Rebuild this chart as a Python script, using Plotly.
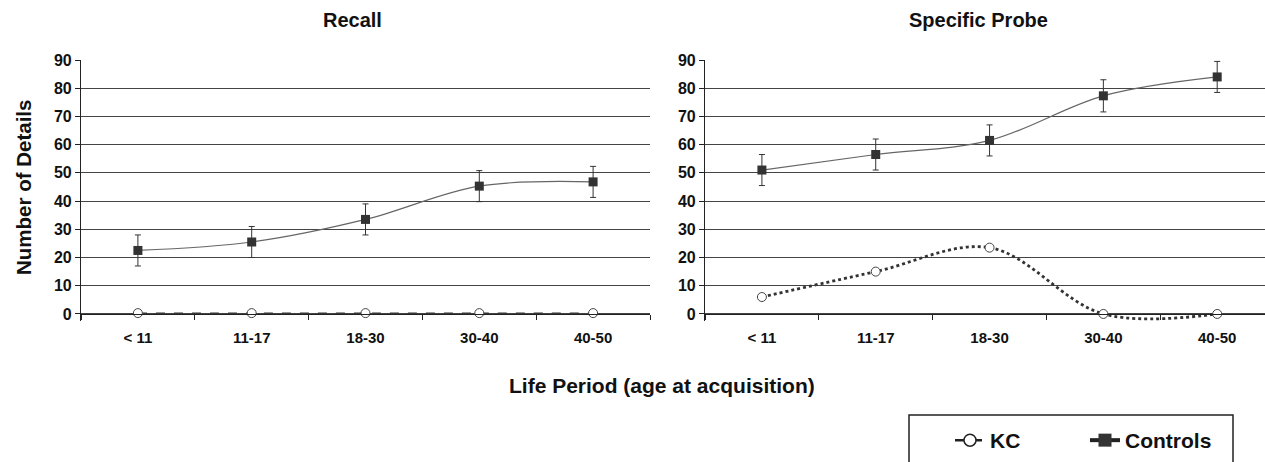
import plotly.graph_objects as go

categories = ["< 11", "11-17", "18-30", "30-40", "40-50"]
recall_controls = [22.5, 25.5, 33.5, 45.3, 46.8]
recall_controls_err = [5.5, 5.5, 5.5, 5.5, 5.5]
recall_kc = [0.3, 0.3, 0.3, 0.3, 0.3]
probe_controls = [51.0, 56.5, 61.5, 77.3, 84.0]
probe_controls_err = [5.5, 5.5, 5.5, 5.7, 5.5]
probe_kc = [6.0, 15.0, 23.5, 0.0, 0.0]
y_ticks = [0, 10, 20, 30, 40, 50, 60, 70, 80, 90]

FONT = "Liberation Sans, Arial, sans-serif"
W, H = 1265, 462
YMIN, YMAX = -2.5, 90
MT, MB = 60, 141

fig = go.Figure()

def add_panel(xa, ya, controls, err, kc, kc_width, kc_dash):
    fig.add_trace(go.Scatter(
        x=categories, y=controls, xaxis=xa, yaxis=ya, mode="lines+markers",
        line=dict(color="#666666", width=1.2, shape="spline", smoothing=1),
        marker=dict(symbol="square", size=9, color="#333333"),
        error_y=dict(type="data", array=err, color="#333333", thickness=1, width=3),
        showlegend=False))
    fig.add_trace(go.Scatter(
        x=categories, y=kc, xaxis=xa, yaxis=ya, mode="lines+markers",
        line=dict(color="#333333", width=kc_width, dash=kc_dash, shape="spline", smoothing=1),
        marker=dict(symbol="circle", size=9, color="white", line=dict(color="#444444", width=1)),
        showlegend=False))

add_panel("x", "y", recall_controls, recall_controls_err, recall_kc, 1.2, "dash")
add_panel("x2", "y2", probe_controls, probe_controls_err, probe_kc, 2.8, "dot")

# legend-only traces
fig.add_trace(go.Scatter(x=[None], y=[None], mode="lines+markers", name="<b>KC</b>",
                         line=dict(color="#222222", width=2.5, dash="dash"),
                         marker=dict(symbol="circle", size=12, color="white", line=dict(color="#222222", width=1.5))))
fig.add_trace(go.Scatter(x=[None], y=[None], mode="lines+markers", name="<b>Controls</b>",
                         line=dict(color="#222222", width=4),
                         marker=dict(symbol="square", size=13, color="#333333")))

bold_cats = ["<b>%s</b>" % c for c in categories]
bold_y = ["<b>%d</b>" % v for v in y_ticks]

xcommon = dict(type="category", categoryorder="array", categoryarray=categories,
               tickvals=categories, ticktext=bold_cats,
               showline=True, linecolor="#222222", linewidth=1.2,
               ticks="outside", tickson="boundaries", ticklen=5, tickcolor="#222222",
               ticklabelstandoff=10,
               showgrid=False, zeroline=False,
               tickfont=dict(family=FONT, size=15, color="#111111"))
ycommon = dict(range=[YMIN, YMAX], tickvals=y_ticks, ticktext=bold_y,
               showline=True, linecolor="#222222", linewidth=1.2,
               ticks="outside", ticklen=5, tickcolor="#222222",
               showgrid=True, gridcolor="#444444", gridwidth=1.2, zeroline=False,
               tickfont=dict(family=FONT, size=16, color="#111111"))

pos0 = (0 - YMIN) / (YMAX - YMIN)

fig.update_layout(
    width=W, height=H, plot_bgcolor="white", paper_bgcolor="white",
    margin=dict(l=0, r=0, t=MT, b=MB, autoexpand=False),
    font=dict(family=FONT, color="#111111"),
    xaxis=dict(domain=[81 / W, 650 / W], range=[-0.5, 4.5], anchor="free", position=pos0, **xcommon),
    yaxis=dict(domain=[0, 1], anchor="x", automargin=False, **ycommon),
    xaxis2=dict(domain=[705 / W, 1.0], range=[-0.5, 4.42], anchor="free", position=pos0, **xcommon),
    yaxis2=dict(domain=[0, 1], anchor="x2", automargin=False, **ycommon),
    legend=dict(orientation="h", xref="container", yref="container",
                x=950 / W, y=1 - 420 / H, xanchor="left", yanchor="top",
                borderwidth=0, bgcolor="rgba(0,0,0,0)",
                font=dict(family=FONT, size=21, color="#111111"),
                itemwidth=30, entrywidth=90, tracegroupgap=0),
    showlegend=True,
)

# legend frame (bottom edge falls outside the picture, as in the original)
fig.add_shape(type="rect", xref="paper", yref="paper",
              x0=909 / W, x1=1233 / W,
              y0=(H - MB - 475) / (H - MT - MB), y1=(H - MB - 415) / (H - MT - MB),
              line=dict(color="#222222", width=1.5), fillcolor="rgba(0,0,0,0)", layer="below")

annots = [
    dict(text="<b>Recall</b>", x=352 / W, y=20, size=20),
    dict(text="<b>Specific Probe</b>", x=978 / W, y=20, size=20),
    dict(text="<b>Number of Details</b>", x=23 / W, y=188, size=20.5, textangle=-90),
    dict(text="<b>Life Period (age at acquisition)</b>", x=662 / W, y=385, size=21),
]
for a in annots:
    size = a.pop("size")
    ypx = a.pop("y")
    fig.add_annotation(xref="paper", yref="paper", showarrow=False,
                       xanchor="center", yanchor="middle",
                       y=(H - MB - ypx) / (H - MT - MB),
                       font=dict(family=FONT, size=size, color="#111111"), **a)

fig.write_html("out.html", config={"displayModeBar": False},
               post_script="document.body.style.margin='0px';document.body.style.overflow='hidden';")
